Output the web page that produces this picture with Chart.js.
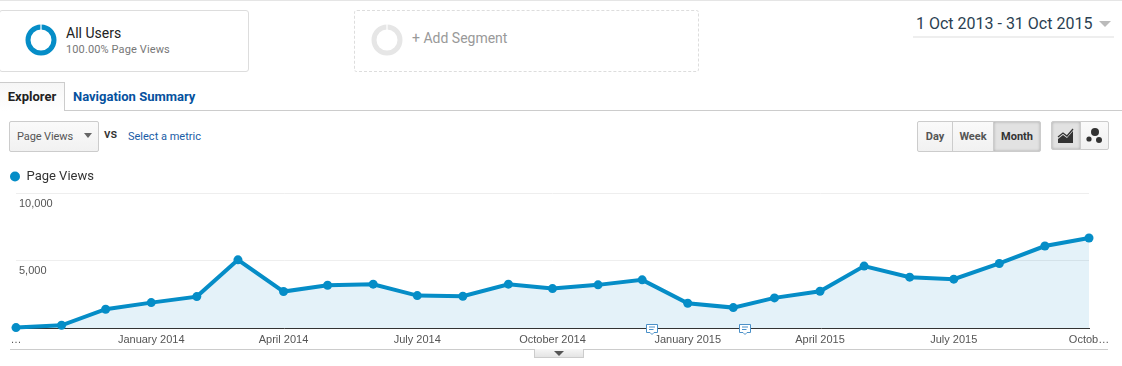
<!DOCTYPE html>
<html>
<head>
<meta charset="utf-8">
<title>Page Views</title>
<script src="https://cdn.jsdelivr.net/npm/chart.js@4"></script>
<style>
  html, body { margin: 0; padding: 0; background: #fff; }
  body { width: 1122px; height: 366px; overflow: hidden; position: relative; font-family: Roboto, "Liberation Sans", sans-serif; }
  .abs { position: absolute; white-space: nowrap; }
  .seg { box-sizing: border-box; border-radius: 3px; top: 10px; height: 62px; }
  .btn { box-sizing: border-box; top: 121px; height: 31px; border: 1px solid #ccc; background: linear-gradient(#fafafa, #f1f1f1); font-size: 11px; font-weight: 700; color: #555; text-align: center; line-height: 29px; }
  .on { background: #e2e2e2; color: #333; box-shadow: inset 0 0 3px #aaa; }
  canvas { position: absolute; left: 0; top: 160px; }
</style>
</head>
<body>
<div class="abs" style="left:0;top:0;width:1122px;height:1px;background:#e5e5e5"></div>

<div class="abs seg" style="left:-1px;width:250px;border:1px solid #ddd"></div>
<svg class="abs" style="left:25px;top:24px" width="32" height="32"><circle cx="16" cy="16" r="13" fill="none" stroke="#058dc7" stroke-width="5"/><rect x="15.4" y="0" width="1.2" height="6" fill="#fff"/></svg>
<div class="abs" style="left:66px;top:25px;font-size:14px;color:#222">All Users</div>
<div class="abs" style="left:66px;top:43px;font-size:11px;letter-spacing:.12px;color:#777">100.00% Page Views</div>

<div class="abs seg" style="left:354px;width:345px;border:1px dashed #ddd"></div>
<svg class="abs" style="left:371px;top:24px" width="32" height="32"><circle cx="16" cy="16" r="13" fill="none" stroke="#e6e6e6" stroke-width="5"/><rect x="15.4" y="0" width="1.2" height="6" fill="#fff"/></svg>
<div class="abs" style="left:412px;top:30px;font-size:14px;color:#999">+ Add Segment</div>

<div class="abs" style="left:916px;top:14px;font-size:16px;color:#2b3f52">1 Oct 2013 - 31 Oct 2015</div>
<div class="abs" style="left:913px;top:36px;width:201px;height:2px;background:#eee"></div>
<svg class="abs" style="left:1099px;top:21px" width="13" height="7"><path d="M0 0H12L6 6Z" fill="#bbb"/></svg>

<div class="abs" style="left:0;top:110px;width:1122px;height:1px;background:#ccc"></div>
<div class="abs" style="left:-1px;top:82px;box-sizing:border-box;width:66px;height:29px;border:1px solid #ccc;border-bottom:0;background:linear-gradient(#f6f6f6,#fff);font-size:13px;font-weight:700;color:#222;text-align:center;line-height:28px">Explorer</div>
<div class="abs" style="left:73px;top:89px;font-size:13px;font-weight:700;color:#05519e">Navigation Summary</div>

<div class="abs btn" style="left:9px;width:90px;border-radius:2px;text-align:left;padding-left:7px;font-weight:400;letter-spacing:-.1px">Page Views</div>
<svg class="abs" style="left:84px;top:133px" width="9" height="6"><path d="M0 0H8L4 5Z" fill="#666"/></svg>
<div class="abs" style="left:104px;top:126px;font-size:13px;font-weight:500;color:#333">vs</div>
<div class="abs" style="left:128px;top:130px;font-size:11px;color:#1a5da6">Select a metric</div>

<div class="abs btn" style="left:917px;width:36px;border-radius:2px 0 0 2px">Day</div>
<div class="abs btn" style="left:952px;width:42px">Week</div>
<div class="abs btn on" style="left:993px;width:48px;border-radius:0 2px 2px 0">Month</div>
<div class="abs btn on" style="left:1051px;width:30px;height:29px;border-radius:2px 0 0 2px"></div>
<div class="abs btn" style="left:1080px;width:29px;height:29px;border-radius:0 2px 2px 0"></div>
<svg class="abs" style="left:1056px;top:128px" width="20" height="18"><path d="M2 15V11L7 7L11 10L17 3V15Z" fill="#333"/><path d="M2 9L7 5L11 8L17 1" fill="none" stroke="#333" stroke-width="1.3"/></svg>
<svg class="abs" style="left:1085px;top:126px" width="20" height="18"><circle cx="10" cy="6" r="4" fill="#333"/><circle cx="4" cy="13" r="2.6" fill="#333"/><circle cx="14" cy="14" r="3" fill="#333"/></svg>

<canvas id="myChart" width="1122" height="206"></canvas>

<div class="abs" style="left:10px;top:349px;width:1098px;height:1px;background:#ccc"></div>
<div class="abs" style="left:534px;top:349px;box-sizing:border-box;width:50px;height:9px;border:1px solid #ccc;border-top:0;background:linear-gradient(#f6f6f6,#e4e4e4)"></div>
<svg class="abs" style="left:554px;top:351px" width="11" height="6"><path d="M0 0H10L5 5Z" fill="#555"/></svg>

<script>
var seriesName = "Page Views";
var months = ["2013-10","2013-11","2013-12","2014-01","2014-02","2014-03","2014-04","2014-05","2014-06","2014-07","2014-08","2014-09","2014-10","2014-11","2014-12","2015-01","2015-02","2015-03","2015-04","2015-05","2015-06","2015-07","2015-08","2015-09","2015-10"];
var pageViews = [30,200,1390,1880,2325,5050,2700,3170,3245,2400,2355,3245,2920,3195,3565,1835,1510,2230,2725,4585,3765,3620,4780,6070,6665];
var tickMonths = ["2013-10","2014-01","2014-04","2014-07","2014-10","2015-01","2015-04","2015-07","2015-10"];
var tickLabels = ["…","January 2014","April 2014","July 2014","October 2014","January 2015","April 2015","July 2015","Octob…"];
var yTicks = [0,5000,10000];
var yTickLabels = ["","5,000","10,000"];
var noteDates = ["2014-12-08","2015-02-09"];

// days since the first month, so the months keep their real spacing
function dayOf(s) {
  return (Date.parse(s.length == 7 ? s + "-01" : s) - Date.parse(months[0] + "-01")) / 86400000;
}

var points = months.map(function (m, i) { return { x: dayOf(m), y: pageViews[i] }; });

var noteIcons = {
  id: "noteIcons",
  afterDraw: function (chart) {
    var ctx = chart.ctx, base = chart.scales.y.getPixelForValue(0);
    noteDates.forEach(function (d) {
      var px = Math.round(chart.scales.x.getPixelForValue(dayOf(d)));
      ctx.save();
      ctx.strokeStyle = "#4a90c8";
      ctx.fillStyle = "#fff";
      ctx.lineWidth = 1;
      ctx.beginPath();
      ctx.moveTo(px - 5.5, base - 3.5);
      ctx.lineTo(px + 5.5, base - 3.5);
      ctx.lineTo(px + 5.5, base + 4.5);
      ctx.lineTo(px + 2, base + 4.5);
      ctx.lineTo(px, base + 6.5);
      ctx.lineTo(px - 2, base + 4.5);
      ctx.lineTo(px - 5.5, base + 4.5);
      ctx.closePath();
      ctx.fill();
      ctx.stroke();
      ctx.beginPath();
      ctx.moveTo(px - 3, base - 1);
      ctx.lineTo(px + 3, base - 1);
      ctx.moveTo(px - 3, base + 1.5);
      ctx.lineTo(px + 1.5, base + 1.5);
      ctx.stroke();
      ctx.restore();
    });
  }
};

var myChart = new Chart(document.getElementById("myChart"), {
  type: "line",
  plugins: [noteIcons],
  data: {
    datasets: [{
      label: seriesName,
      data: points,
      borderColor: "#058dc7",
      backgroundColor: "rgba(5,141,199,0.11)",
      pointBackgroundColor: "#058dc7",
      pointBorderColor: "#058dc7",
      borderWidth: 4,
      pointRadius: 4.5,
      pointBorderWidth: 0,
      tension: 0,
      fill: "origin",
      clip: false
    }]
  },
  options: {
    responsive: false,
    animation: false,
    layout: { padding: { right: 33 } },
    plugins: {
      tooltip: { enabled: false },
      legend: {
        align: "start",
        labels: {
          usePointStyle: true,
          pointStyle: "circle",
          boxHeight: 7.07,
          pointStyleWidth: 10,
          padding: 10,
          color: "#333",
          font: { family: "Roboto", size: 13 },
          generateLabels: function (chart) {
            return [{ text: seriesName, fillStyle: "#058dc7", strokeStyle: "#058dc7", lineWidth: 0, pointStyle: "circle", fontColor: "#333", datasetIndex: 0 }];
          }
        }
      }
    },
    scales: {
      x: {
        type: "linear",
        min: 0,
        max: dayOf(months[months.length - 1]),
        afterBuildTicks: function (scale) {
          scale.ticks = tickMonths.map(function (m) { return { value: dayOf(m) }; });
        },
        afterFit: function (scale) { scale.height = 38; },
        grid: { display: false, drawTicks: false, tickLength: 0 },
        border: { color: "#333", width: 1 },
        ticks: {
          autoSkip: false,
          maxRotation: 0,
          padding: 5,
          color: "#555",
          font: { family: "Liberation Sans", size: 11 },
          callback: function (v) {
            var i = tickMonths.findIndex(function (m) { return dayOf(m) == v; });
            return i < 0 ? "" : tickLabels[i];
          }
        }
      },
      y: {
        min: 0,
        max: 10000,
        afterBuildTicks: function (scale) {
          scale.ticks = yTicks.map(function (v) { return { value: v }; });
        },
        afterFit: function (scale) { scale.width = 16; },
        grid: { color: "#eeeeee", drawTicks: false },
        border: { display: false },
        ticks: {
          mirror: true,
          align: "start",
          padding: 3,
          labelOffset: 5,
          color: "#555",
          font: { family: "Liberation Sans", size: 11 },
          callback: function (v) { return yTickLabels[yTicks.indexOf(v)]; }
        }
      }
    }
  }
});
</script>
</body>
</html>
